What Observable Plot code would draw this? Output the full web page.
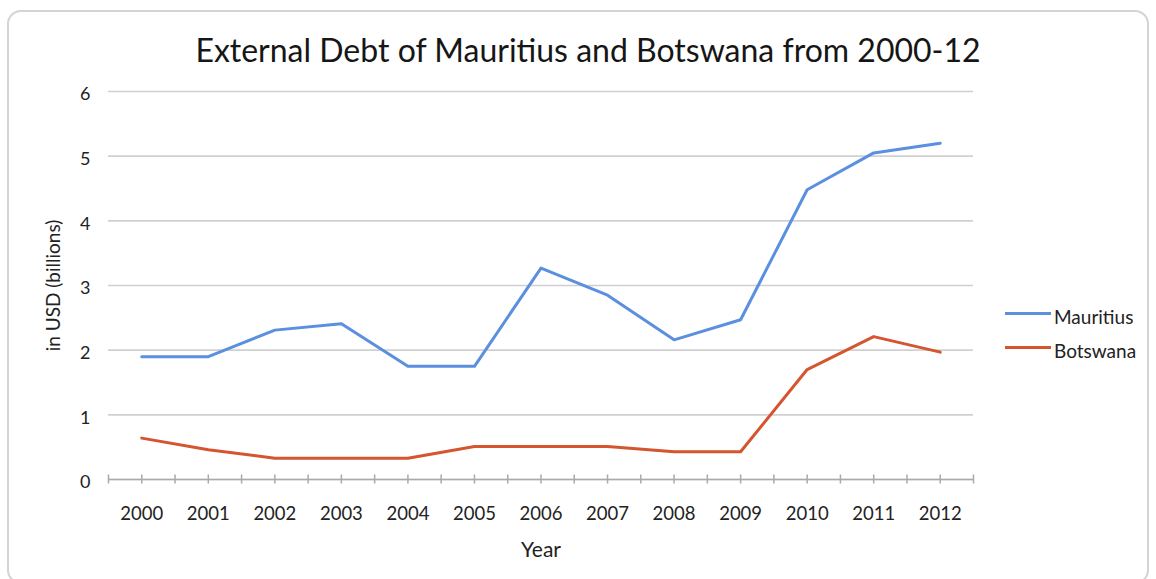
<!DOCTYPE html>
<html>
<head>
<meta charset="utf-8">
<script src="https://cdn.jsdelivr.net/npm/d3@7"></script>
<script src="https://cdn.jsdelivr.net/npm/@observablehq/plot@0.6"></script>
<style>
  html, body { margin: 0; padding: 0; background: #fff; }
  #wrap { position: relative; width: 1156px; height: 579px; overflow: hidden; font-family: Lato, "Open Sans", sans-serif; }
  #frame { position: absolute; left: 7px; top: 10px; width: 1142px; height: 574px; border: 2px solid #d4d4d4; border-radius: 14px; box-sizing: border-box; }
  #title { position: absolute; left: 0; top: 31px; width: 1176px; text-align: center; font-size: 32px; line-height: 38px; color: #161616; }
  #chart { position: absolute; left: 0; top: 70px; }
  .leg { position: absolute; left: 1005px; font-size: 19px; line-height: 22px; color: #222; display: flex; align-items: center; }
  .leg span.sw { display: inline-block; width: 46px; height: 3px; margin-right: 3px; position: relative; top: -4px; }
</style>
</head>
<body>
<div id="wrap">
  <div id="frame"></div>
  <div id="title">External Debt of Mauritius and Botswana from 2000-12</div>
  <div id="chart"></div>
  <div class="leg" style="top:306px"><span class="sw" style="background:#5b8fdf"></span>Mauritius</div>
  <div class="leg" style="top:340px"><span class="sw" style="background:#d4552f"></span>Botswana</div>
</div>
<script>
const years = [2000, 2001, 2002, 2003, 2004, 2005, 2006, 2007, 2008, 2009, 2010, 2011, 2012];
const mauritius = [1.9, 1.9, 2.31, 2.41, 1.75, 1.75, 3.27, 2.85, 2.16, 2.47, 4.48, 5.05, 5.2];
const botswana = [0.64, 0.46, 0.33, 0.33, 0.33, 0.51, 0.51, 0.51, 0.43, 0.43, 1.7, 2.21, 1.97];
const yTicks = [0, 1, 2, 3, 4, 5, 6];
const seriesNames = ["Mauritius", "Botswana"];
const seriesColors = ["#5b8fdf", "#d4552f"];
const xLabel = "Year";
const yLabel = "in USD (billions)";

const data = [];
years.forEach((y, i) => {
  data.push({year: y, value: mauritius[i], series: seriesNames[0]});
  data.push({year: y, value: botswana[i], series: seriesNames[1]});
});
// axis tick positions at category centers and boundaries
const axisTicks = [];
for (let i = 0; i <= years.length * 2; i++) axisTicks.push(years[0] - 0.5 + i * 0.5);

const chart = Plot.plot({
  width: 1156,
  height: 509,
  marginTop: 21,
  marginBottom: 100,
  marginLeft: 108,
  marginRight: 183,
  style: {fontFamily: "Lato, 'Open Sans', sans-serif", fontSize: "18px", color: "#222", background: "transparent"},
  x: {domain: [years[0] - 0.5, years[years.length - 1] + 0.5]},
  y: {domain: [0, 6]},
  color: {domain: seriesNames, range: seriesColors},
  marks: [
    Plot.gridY(yTicks, {stroke: "#d0d0d0", strokeOpacity: 1, strokeWidth: 1.6}),
    Plot.axisY(yTicks, {tickSize: 0, tickPadding: 18, fontSize: 18, dy: 3, tickFormat: d => String(d), label: null}),
    Plot.axisX(years, {tickSize: 0, tickPadding: 27, fontSize: 18.5, tickFormat: d => String(d), label: null}),
    Plot.text([xLabel], {frameAnchor: "bottom", dy: 77, fontSize: 21, fill: "#222"}),
    Plot.text([yLabel], {frameAnchor: "left", textAnchor: "middle", dx: -55, rotate: -90, fontSize: 19, fill: "#222"}),
    Plot.ruleY([0], {stroke: "#aaa", strokeWidth: 1.5}),
    Plot.ruleX(axisTicks, {x: d => d, y1: -0.07, y2: 0.07, stroke: "#aaa", strokeWidth: 1.5}),
    Plot.line(data, {x: "year", y: "value", z: "series", stroke: "series", strokeWidth: 3})
  ]
});
document.getElementById("chart").appendChild(chart);
</script>
</body>
</html>
